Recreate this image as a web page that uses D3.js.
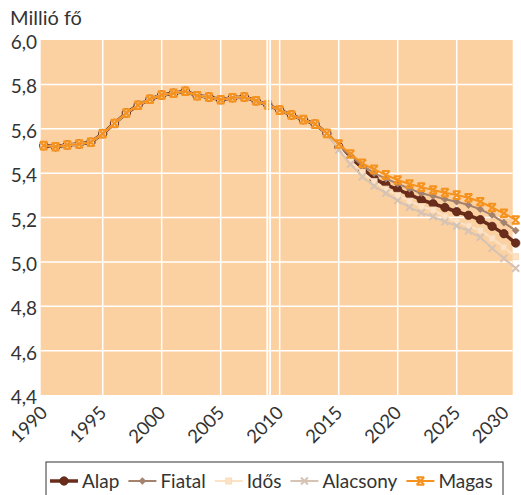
<!DOCTYPE html>
<html>
<head>
<meta charset="utf-8">
<script src="https://cdn.jsdelivr.net/npm/d3@7"></script>
<style>
  body { margin: 0; background: #fff; }
  text { font-family: Lato, "Open Sans", sans-serif; fill: #333; }
</style>
</head>
<body>
<div id="chart"></div>
<script>
// Years on the x axis
const years = d3.range(1990, 2031);

// Common history 1990-2014 (all scenarios coincide)
const history = [5.524, 5.519, 5.527, 5.531, 5.539, 5.578, 5.624, 5.671, 5.706, 5.733,
  5.752, 5.760, 5.769, 5.749, 5.743, 5.731, 5.740, 5.743, 5.726, 5.707,
  5.684, 5.662, 5.641, 5.621, 5.579];

// Projections 2015-2030
const alap = [5.520, 5.468, 5.422, 5.375, 5.348, 5.326, 5.304, 5.280, 5.262, 5.245, 5.226, 5.210, 5.190, 5.160, 5.127, 5.085];
const fiatal = [5.525, 5.478, 5.435, 5.400, 5.375, 5.352, 5.330, 5.309, 5.297, 5.282, 5.271, 5.256, 5.237, 5.211, 5.177, 5.141];
const idos = [5.515, 5.455, 5.405, 5.362, 5.328, 5.300, 5.274, 5.250, 5.234, 5.204, 5.181, 5.162, 5.141, 5.106, 5.066, 5.023];
const alacsony = [5.504, 5.440, 5.384, 5.342, 5.309, 5.276, 5.246, 5.222, 5.204, 5.181, 5.162, 5.139, 5.111, 5.061, 5.016, 4.971];
const magas = [5.531, 5.486, 5.444, 5.417, 5.392, 5.369, 5.351, 5.337, 5.324, 5.312, 5.301, 5.289, 5.271, 5.245, 5.219, 5.189];

const yTicks = [4.4, 4.6, 4.8, 5.0, 5.2, 5.4, 5.6, 5.8, 6.0];
const xTicks = [1990, 1995, 2000, 2005, 2010, 2015, 2020, 2025, 2030];

const series = [
  { name: 'Alap', values: alap, color: '#6a2d1b', width: 3.5, symbol: 'circle', size: 4.2 },
  { name: 'Fiatal', values: fiatal, color: '#a5826d', width: 2, symbol: 'diamond', size: 3.8 },
  { name: 'Idős', values: idos, color: '#fde3c6', width: 2, symbol: 'square', size: 3 },
  { name: 'Alacsony', values: alacsony, color: '#d6c3b4', width: 2, symbol: 'cross', size: 3.5 },
  { name: 'Magas', values: magas, color: '#f6921e', width: 2, symbol: 'star', size: 3.8 },
];

const width = 521, height = 495;
const plot = { left: 40.7, right: 512.7, top: 40, bottom: 395 };

const svg = d3.select('#chart').append('svg')
  .attr('width', width)
  .attr('height', height);

const x = d3.scaleLinear().domain([1990, 2030]).range([43.7, 515.7]);
const y = d3.scaleLinear().domain([4.4, 6.0]).range([plot.bottom, plot.top]);

// Plot background
svg.append('rect')
  .attr('x', plot.left).attr('y', plot.top)
  .attr('width', plot.right - plot.left).attr('height', plot.bottom - plot.top)
  .attr('fill', '#fcd1a2');

// Grid lines
svg.append('g').selectAll('line')
  .data(yTicks.slice(1, -1))
  .join('line')
  .attr('x1', plot.left).attr('x2', plot.right)
  .attr('y1', (d) => y(d)).attr('y2', (d) => y(d))
  .attr('stroke', '#fff').attr('stroke-width', 1.5);

svg.append('g').selectAll('line')
  .data(xTicks.slice(1, -1))
  .join('line')
  .attr('x1', (d) => x(d)).attr('x2', (d) => x(d))
  .attr('y1', plot.top).attr('y2', plot.bottom)
  .attr('stroke', '#fff').attr('stroke-width', 1.5);

// Marker drawing
function drawMarker(g, s, cx, cy) {
  const r = s.size;
  if (s.symbol === 'circle') {
    g.append('circle').attr('cx', cx).attr('cy', cy).attr('r', r)
      .attr('fill', s.color).attr('stroke', '#5a2414').attr('stroke-width', 0.8);
  } else if (s.symbol === 'diamond') {
    g.append('path')
      .attr('d', `M${cx},${cy - r}L${cx + r},${cy}L${cx},${cy + r}L${cx - r},${cy}Z`)
      .attr('fill', s.color);
  } else if (s.symbol === 'square') {
    g.append('rect').attr('x', cx - r).attr('y', cy - r)
      .attr('width', 2 * r).attr('height', 2 * r)
      .attr('fill', s.color).attr('stroke', '#f6d6b6').attr('stroke-width', 0.8);
  } else if (s.symbol === 'cross') {
    g.append('path')
      .attr('d', `M${cx - r},${cy - r}L${cx + r},${cy + r}M${cx - r},${cy + r}L${cx + r},${cy - r}`)
      .attr('stroke', s.color).attr('stroke-width', 2);
  } else {
    g.append('path')
      .attr('d', `M${cx - r},${cy - r}L${cx + r},${cy + r}M${cx - r},${cy + r}L${cx + r},${cy - r}M${cx - r},${cy - r}L${cx + r},${cy - r}M${cx - r},${cy + r}L${cx + r},${cy + r}`)
      .attr('stroke', s.color).attr('stroke-width', 2);
  }
}

const line = d3.line().x((d) => x(d.year)).y((d) => y(d.value));

series.forEach((s) => {
  const data = history.concat(s.values).map((v, i) => ({ year: years[i], value: v }));
  const g = svg.append('g');
  g.append('path')
    .datum(data)
    .attr('d', line)
    .attr('fill', 'none')
    .attr('stroke', s.color)
    .attr('stroke-width', s.width)
    .attr('stroke-linejoin', 'round');
  data.forEach((d) => drawMarker(g, s, x(d.year), y(d.value)));
});

// Separator between data and projection
[-0.6, 2.2].forEach((off) => {
  svg.append('line')
    .attr('x1', x(2009) + off).attr('x2', x(2009) + off)
    .attr('y1', plot.top).attr('y2', plot.bottom)
    .attr('stroke', '#fff').attr('stroke-width', 1.8);
});

// Y axis labels
svg.append('g').selectAll('text')
  .data(yTicks)
  .join('text')
  .attr('x', 37)
  .attr('y', (d) => y(d) + 9)
  .attr('text-anchor', 'end')
  .attr('font-size', 19)
  .text((d) => d3.format('.1f')(d).replace('.', ','));

// X axis labels (last one nudged in so it stays inside the page)
svg.append('g').selectAll('text')
  .data(xTicks)
  .join('text')
  .attr('text-anchor', 'end')
  .attr('font-size', 18.5)
  .attr('transform', (d) => `translate(${Math.min(x(d) + 5, 510)},${plot.bottom + 19}) rotate(-45)`)
  .text((d) => d);

// Unit label
svg.append('text')
  .attr('x', 10).attr('y', 25)
  .attr('font-size', 20)
  .text('Millió fő');

// Legend
const legend = svg.append('g');
legend.append('rect')
  .attr('x', 46).attr('y', 462)
  .attr('width', 457).attr('height', 40)
  .attr('fill', '#fff').attr('stroke', '#333').attr('stroke-width', 1);

let lx = 50;
const ly = 481;
series.forEach((s) => {
  const g = legend.append('g');
  g.append('line')
    .attr('x1', lx).attr('x2', lx + 28)
    .attr('y1', ly).attr('y2', ly)
    .attr('stroke', s.color).attr('stroke-width', s.width);
  drawMarker(g, s, lx + 14, ly);
  const t = g.append('text')
    .attr('x', lx + 32).attr('y', ly + 7)
    .attr('font-size', 19)
    .text(s.name);
  lx += 32 + t.node().getComputedTextLength() + 9;
});
</script>
</body>
</html>
